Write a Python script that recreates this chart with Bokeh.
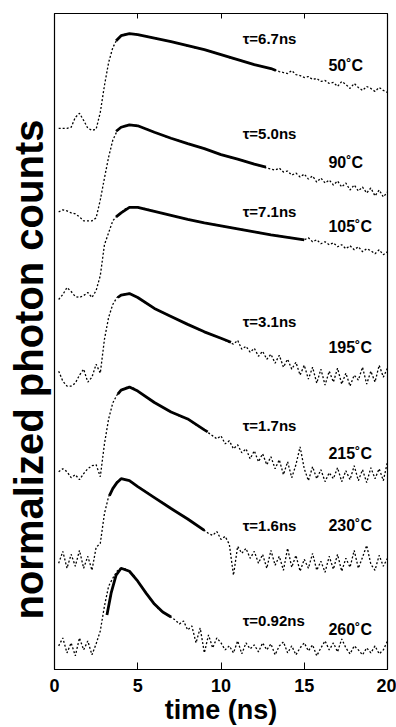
from bokeh.plotting import figure
from bokeh.models import Range1d, LinearAxis, FixedTicker, Title, CustomJSTickFormatter
from bokeh.embed import file_html
from bokeh.resources import INLINE
from bokeh.core.properties import value

FONT = "Liberation Sans"

# sample times of the photon-count histograms (ns)
time_ns = [0.25, 0.5, 0.75, 1.0, 1.25, 1.5, 1.75, 2.0, 2.25, 2.5,
           2.75, 3.0, 3.25, 3.5, 3.75, 4.0, 4.25, 4.5, 4.75, 5.0,
           5.25, 5.5, 5.75, 6.0, 6.25, 6.5, 6.75, 7.0, 7.25, 7.5,
           7.75, 8.0, 8.25, 8.5, 8.75, 9.0, 9.25, 9.5, 9.75, 10.0,
           10.25, 10.5, 10.75, 11.0, 11.25, 11.5, 11.75, 12.0, 12.25, 12.5,
           12.75, 13.0, 13.25, 13.5, 13.75, 14.0, 14.25, 14.5, 14.75, 15.0,
           15.25, 15.5, 15.75, 16.0, 16.25, 16.5, 16.75, 17.0, 17.25, 17.5,
           17.75, 18.0, 18.25, 18.5, 18.75, 19.0, 19.25, 19.5, 19.75, 20.0]

# stacked, normalized photon counts (arbitrary offset units)
counts_50C = [572, 572, 572, 573, 583, 587, 580, 572, 570, 571,
              588, 615, 638, 653, 661, 665, 666.5, 667, 667, 666,
              665, 664.5, 663.5, 662.5, 662, 661, 660, 659, 658, 657,
              656, 654.5, 654, 652.5, 652, 651, 649.5, 649, 647, 646,
              644.5, 643, 642, 641, 640, 638.5, 637.5, 636, 635, 634,
              633, 632, 630.5, 629, 628, 627, 630, 626, 625, 623,
              624, 621, 622, 619, 620, 617, 618, 614, 619, 616,
              612, 617, 613, 610, 614, 612, 609, 613, 610, 608]
counts_90C = [488, 490, 489, 487, 486, 483, 479, 479, 479, 482,
              500, 522, 543, 560, 569, 573, 575, 575.5, 575.5, 574.5,
              573, 571.5, 570, 568, 566.5, 565, 563, 562, 561, 559.5,
              558, 556.5, 555, 554, 553, 551.5, 550, 548.5, 547, 545.5,
              544.5, 543, 542, 541, 540, 538.5, 537, 536, 534.5, 533.5,
              532, 531, 530, 532, 528, 529, 525, 527, 523, 526,
              521, 524, 518, 522, 517, 520, 515, 519, 513, 517,
              510, 515, 509, 513, 507, 512, 504, 510, 503, 508]
counts_105C = [400, 405, 412, 408, 403, 402, 404, 407, 402, 409,
               424, 455, 467, 479, 484, 487, 491, 492.5, 493, 492.5,
               492, 491, 490, 488.5, 487.5, 486.5, 485, 484.5, 483.5, 482.5,
               481.5, 480.5, 479.5, 479, 478, 477, 476.5, 475.5, 475, 474,
               473, 472.5, 472, 471, 470.5, 469.5, 469, 468, 467.5, 466.5,
               466, 465, 464.5, 464, 463, 462.5, 462, 461, 460.5, 460,
               462, 458, 460, 456, 458, 455, 457, 453, 455, 451,
               454, 450, 453, 448, 451, 449, 446, 450, 445, 448]
counts_195C = [328, 318, 313, 313, 316, 324, 330, 317, 322, 335,
               326, 360, 382, 395, 402, 404.5, 405.5, 406, 404.5, 402,
               399, 396, 393.5, 391, 389, 387, 385, 383, 381, 379,
               377, 375, 373, 371, 369, 367.5, 366, 364, 362.5, 361,
               359, 357, 355, 359, 350, 353, 347, 351, 343, 348,
               340, 345, 336, 344, 332, 340, 330, 337, 324, 334,
               320, 332, 316, 330, 314, 328, 317, 331, 315, 326,
               313, 324, 319, 332, 315, 328, 317, 334, 322, 331]
counts_215C = [227, 230, 227, 221, 224, 219, 225, 230, 233, 234,
               222, 255, 280, 296, 304, 309, 311.5, 312, 311, 308,
               305, 302, 299, 296.5, 294, 291.5, 289, 287, 285, 283,
               281, 280, 277, 274, 271.5, 269, 266, 263, 260, 263,
               255, 258, 250, 254, 246, 250, 240, 248, 237, 245,
               234, 242, 230, 239, 224, 237, 221, 234, 252, 230,
               218, 232, 220, 229, 217, 226, 220, 231, 217, 228,
               219, 233, 218, 229, 216, 231, 220, 230, 218, 237]
counts_230C = [135, 147, 130, 144, 132, 148, 130, 142, 128, 151,
               155, 185, 202, 210, 217, 220, 219.5, 218, 215, 212,
               209.5, 207, 204, 201, 198.5, 196, 193, 190, 187.5, 185,
               182, 179.5, 177, 174, 171, 168, 165, 163, 167, 159,
               162, 154, 123, 152, 145, 150, 140, 147, 135, 144,
               130, 148, 133, 142, 128, 150, 131, 143, 127, 139,
               130, 145, 128, 137, 126, 142, 129, 144, 127, 140,
               131, 148, 130, 141, 153, 134, 128, 143, 132, 140]
counts_260C = [52, 60, 45, 55, 42, 60, 48, 57, 43, 54,
               67, 92, 112, 120, 127, 130, 129.5, 127, 123, 117,
               111, 105, 99, 94, 89, 86, 83, 81, 78, 74,
               77, 68, 72, 55, 70, 45, 63, 50, 60, 55,
               48, 52, 45, 57, 44, 55, 49, 53, 46, 55,
               48, 54, 43, 52, 56, 45, 52, 43, 50, 55,
               47, 53, 42, 50, 57, 48, 55, 46, 59, 50,
               44, 52, 48, 43, 50, 45, 52, 44, 48, 57]

# single-exponential fits (solid lines)
fit_t_50C = [3.7, 4.0, 4.5, 5, 6, 7, 8, 9, 10, 11, 12, 13, 13.3]
fit_y_50C = [660, 665, 667, 666, 662.5, 659, 655, 651, 646, 641, 636, 632, 630]
fit_t_90C = [3.7, 4.0, 4.5, 5, 6, 7, 8, 9, 10, 11, 12, 12.7]
fit_y_90C = [569, 573, 575.5, 574.5, 568, 562, 556.5, 551.5, 545.5, 541, 536, 533]
fit_t_105C = [3.7, 4.0, 4.5, 5, 6, 7, 8, 9, 10, 11, 12, 13, 14, 15]
fit_y_105C = [483, 487, 492.5, 492.5, 488.5, 484.5, 480.5, 477, 474, 471, 468, 465, 462.5, 460]
fit_t_195C = [3.8, 4.0, 4.5, 5, 6, 7, 8, 9, 10, 10.6]
fit_y_195C = [402, 404.5, 406, 402, 391, 383, 375, 367.5, 361, 357]
fit_t_215C = [3.8, 4.0, 4.5, 5, 6, 7, 8, 9, 9.2]
fit_y_215C = [305, 309, 312, 308, 296.5, 287, 280, 269, 267]
fit_t_230C = [3.3, 3.5, 3.75, 4.0, 4.5, 5, 6, 7, 8, 9]
fit_y_230C = [203, 210, 216, 220, 218, 212, 201, 190, 179.5, 168]
fit_t_260C = [3.15, 3.4, 3.7, 4.0, 4.5, 5.0, 5.5, 6.0, 6.5, 7.0]
fit_y_260C = [83, 105, 123, 130, 127, 117, 105, 94, 86, 81]

tau_labels = ["τ=6.7ns", "τ=5.0ns", "τ=7.1ns", "τ=3.1ns", "τ=1.7ns", "τ=1.6ns", "τ=0.92ns"]
tau_label_y = [662, 567, 488, 378, 273, 173, 78]
temp_labels = ["50˚C", "90˚C", "105˚C", "195˚C", "215˚C", "230˚C", "260˚C"]
temp_label_y = [635, 538, 473, 352, 245, 173, 68]
tau_label_x = 11.3
temp_label_x = 16.45
x_ticks = [0, 5, 10, 15, 20]
top_ticks = [5, 10, 15]

p = figure(width=396, height=727, x_range=Range1d(0, 20), y_range=Range1d(28.3, 687.3),
           output_backend="svg", toolbar_location=None,
           x_axis_type=None, y_axis_type=None,
           min_border_left=54, min_border_right=9, min_border_top=13, min_border_bottom=55)
p.grid.visible = False
p.outline_line_color = "black"
p.outline_line_width = 1.2
p.background_fill_color = "white"
p.border_fill_color = "white"

xaxis = LinearAxis(ticker=FixedTicker(ticks=x_ticks), major_tick_in=7, major_tick_out=0,
                   minor_tick_line_color=None, axis_line_color="black",
                   major_label_text_font=FONT, major_label_text_font_style="bold",
                   major_label_text_font_size="18px", major_label_text_color="black",
                   major_label_standoff=9,
                   axis_label="time (ns)", axis_label_standoff=0,
                   axis_label_text_font=FONT, axis_label_text_font_style="bold",
                   axis_label_text_font_size="27px", axis_label_text_color="black")
p.add_layout(xaxis, "below")
topaxis = LinearAxis(ticker=FixedTicker(ticks=top_ticks), major_tick_in=5, major_tick_out=0,
                     minor_tick_line_color=None, axis_line_color="black",
                     formatter=CustomJSTickFormatter(code="return ''"),
                     major_label_standoff=0)
p.add_layout(topaxis, "above")

p.add_layout(Title(text="normalized photon counts", align="left", offset=50, standoff=8,
                   text_font=FONT, text_font_style="bold", text_font_size="40px",
                   text_color="black"), "left")

series = [counts_50C, counts_90C, counts_105C, counts_195C, counts_215C, counts_230C, counts_260C]
fits = [(fit_t_50C, fit_y_50C), (fit_t_90C, fit_y_90C), (fit_t_105C, fit_y_105C),
        (fit_t_195C, fit_y_195C), (fit_t_215C, fit_y_215C), (fit_t_230C, fit_y_230C),
        (fit_t_260C, fit_y_260C)]

for s in series:
    p.line(time_ns, s, line_color="black", line_width=1.3, line_dash="2 2")
for ft, fy in fits:
    p.line(ft, fy, line_color="black", line_width=2.8)

p.text(x=[tau_label_x] * len(tau_labels), y=tau_label_y, text=tau_labels,
       text_font=value(FONT), text_font_style="bold", text_font_size="15px",
       text_align="left", text_baseline="middle", text_color="black")
p.text(x=[temp_label_x] * len(temp_labels), y=temp_label_y, text=temp_labels,
       text_font=value(FONT), text_font_style="bold", text_font_size="16px",
       text_align="left", text_baseline="middle", text_color="black")

open("out.html", "w").write(file_html(p, INLINE))
